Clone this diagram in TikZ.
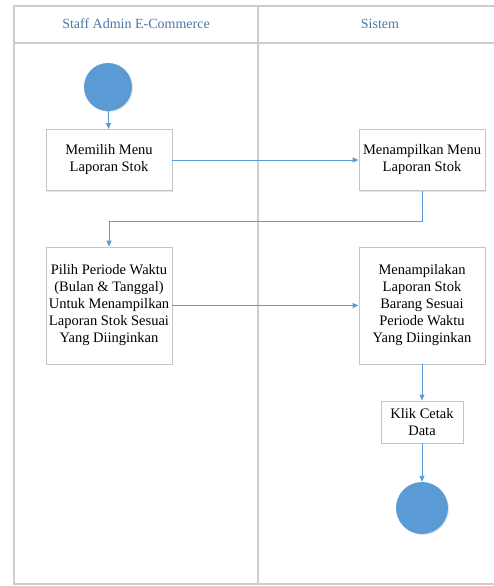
\documentclass[tikz,border=0pt]{standalone}
\usepackage{fontspec}
\setmainfont{Liberation Serif}
\usetikzlibrary{arrows.meta,shadows}
\definecolor{flowblue}{HTML}{5B9BD5}
\definecolor{lanegrey}{HTML}{CDCDD0}
\definecolor{boxgrey}{HTML}{C4C4C4}
\definecolor{headblue}{HTML}{4A78A8}
\tikzset{
  lane/.style={draw=lanegrey, line width=1.6pt},
  head/.style={text=headblue, font=\fontsize{14}{16}\selectfont},
  act/.style={draw=boxgrey, line width=0.9pt, fill=white, align=center,
    font=\fontsize{14.5}{17}\selectfont, inner sep=0pt,
    drop shadow={shadow xshift=1.2pt, shadow yshift=-1.2pt, fill=black!18, opacity=0.6}},
  dot/.style={circle, fill=flowblue, draw=none, inner sep=0pt,
    drop shadow={shadow xshift=1pt, shadow yshift=-1pt, fill=black!20, opacity=0.5}},
  flow/.style={draw=flowblue, line width=0.9pt, -{Triangle[length=6pt, width=5pt]}},
}
\begin{document}
\begin{tikzpicture}[x=1pt, y=-1pt]
  \useasboundingbox (0,0) rectangle (494,586);
  \fill[white] (0,0) rectangle (494,586);

  % swimlane frame
  \draw[lane] (500,6) -- (14,6) -- (14,584) -- (500,584);
  \draw[lane] (14,43) -- (500,43);
  \draw[lane] (258,6) -- (258,584);
  \node[head] (h1) at (136,24) {Staff Admin E-Commerce};
  \node[head] (h2) at (380,24) {Sistem};

  % activities
  \node[dot, minimum size=48pt] (start) at (108,87) {};
  \node[act, minimum width=126pt, minimum height=61pt] (a1) at (109,160)
    {Memilih Menu\\Laporan Stok};
  \node[act, minimum width=126pt, minimum height=61pt] (a2) at (422,160)
    {Menampilkan Menu\\Laporan Stok};
  \node[act, minimum width=126pt, minimum height=117pt] (a3) at (109,305.5)
    {Pilih Periode Waktu\\(Bulan \& Tanggal)\\Untuk Menampilkan\\Laporan Stok Sesuai\\Yang Diinginkan};
  \node[act, minimum width=126pt, minimum height=117pt] (a4) at (422,305.5)
    {Menampilakan\\Laporan Stok\\Barang Sesuai\\Periode Waktu\\Yang Diinginkan};
  \node[act, minimum width=82pt, minimum height=42pt] (a5) at (422,422)
    {Klik Cetak\\Data};
  \node[dot, minimum size=52pt] (end) at (422,508) {};

  % control flow
  \draw[flow] (start) -- (a1);
  \draw[flow] (a1) -- (a2);
  \draw[flow] (a2.south) -- ++(0,30) -| (a3.north);
  \draw[flow] (a3) -- (a4);
  \draw[flow] (a4) -- (a5);
  \draw[flow] (a5) -- (end);
\end{tikzpicture}
\end{document}
